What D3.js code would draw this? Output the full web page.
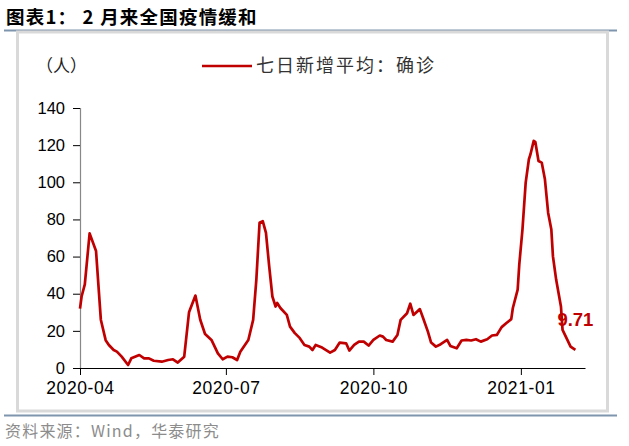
<!DOCTYPE html>
<html><head><meta charset="utf-8">
<script src="https://cdn.jsdelivr.net/npm/d3@7"></script>
<style>body{margin:0;background:#fff;} svg{display:block;}</style>
</head><body>
<div id="chart"></div>
<script>
const title = "图表1： 2 月来全国疫情缓和";
const seriesName = "七日新增平均：确诊";
const unitLabel = "（人）";
const source = "资料来源：Wind，华泰研究";
const lastLabel = "9.71";
const yTicks = [0, 20, 40, 60, 80, 100, 120, 140];
const xTicks = ["2020-04-01", "2020-07-01", "2020-10-01", "2021-01-01"];
const dates = [
"2020-04-01","2020-04-02","2020-04-04","2020-04-07","2020-04-11","2020-04-14","2020-04-17","2020-04-19","2020-04-22","2020-04-24",
"2020-04-27","2020-05-01","2020-05-03","2020-05-08","2020-05-11","2020-05-14","2020-05-17","2020-05-22","2020-05-26","2020-05-29",
"2020-06-01","2020-06-05","2020-06-08","2020-06-12","2020-06-15","2020-06-18","2020-06-22","2020-06-26","2020-06-29","2020-07-02",
"2020-07-05","2020-07-08","2020-07-10","2020-07-15","2020-07-18","2020-07-20","2020-07-22","2020-07-24","2020-07-26","2020-07-28",
"2020-07-30","2020-08-01","2020-08-02","2020-08-04","2020-08-08","2020-08-10","2020-08-13","2020-08-16","2020-08-19","2020-08-22",
"2020-08-24","2020-08-26","2020-08-30","2020-09-04","2020-09-07","2020-09-10","2020-09-14","2020-09-16","2020-09-19","2020-09-22",
"2020-09-25","2020-09-28","2020-10-01","2020-10-05","2020-10-07","2020-10-09","2020-10-13","2020-10-16","2020-10-18","2020-10-22",
"2020-10-24","2020-10-26","2020-10-30","2020-11-01","2020-11-04","2020-11-06","2020-11-09","2020-11-12","2020-11-16","2020-11-18",
"2020-11-22","2020-11-25","2020-11-28","2020-12-01","2020-12-04","2020-12-07","2020-12-11","2020-12-14","2020-12-17","2020-12-20",
"2020-12-23","2020-12-26","2020-12-27","2020-12-30","2020-12-31","2021-01-02","2021-01-04","2021-01-06","2021-01-07","2021-01-09",
"2021-01-10","2021-01-12","2021-01-14","2021-01-16","2021-01-18","2021-01-20","2021-01-21","2021-01-23","2021-01-26","2021-01-27",
"2021-01-30","2021-02-01","2021-02-04"];
const values = [
32,38.5,45,72.5,63,26,15,12.4,9.7,8.8,
6.1,1.6,5.2,7,5.2,5.2,3.9,3.4,4.3,4.7,
2.9,6.1,30,39,26,18.3,15.1,7.9,4.7,6.1,
5.8,4.3,8.8,15.1,25.9,47.6,78.2,79.1,72.8,54.8,
38.5,33.1,35,32.3,28.6,22.3,18.8,16.2,12.4,11.5,
9.7,12.4,11,8.3,9.7,13.7,13.3,9.4,12.4,14.2,
14.2,12.1,15.1,17.5,16.9,15.1,14.2,17.8,25.9,29.5,
34.6,28.6,31.7,26.9,19.6,13.7,11.5,12.8,15.1,11.9,
10.6,14.8,15.1,14.8,15.5,14.2,15.5,17.5,17.8,22,
24.2,26.3,32.3,42.2,55.7,74.6,99.8,112.4,115.1,122.3,
121.8,111.5,110.6,101.6,83.6,74.6,60.2,47.6,33.1,20.5,
15.1,11.5,9.71];

const W = 629, H = 446;
const parse = d3.timeParse("%Y-%m-%d");
const fmt = d3.timeFormat("%Y-%m");
const data = dates.map((d, i) => ({date: parse(d), value: values[i]}));

const svg = d3.select("#chart").append("svg").attr("width", W).attr("height", H);

// title
svg.append("text").attr("x", 6).attr("y", 24)
  .attr("font-family", "'Noto Sans CJK SC', sans-serif").attr("font-weight", "bold")
  .attr("font-size", 18.5).attr("letter-spacing", 1.2).attr("fill", "#000").text(title);
svg.append("line").attr("x1", 4).attr("x2", 617).attr("y1", 30.5).attr("y2", 30.5)
  .attr("stroke", "#7f95ad").attr("stroke-width", 2);
// frame
svg.append("rect").attr("x", 17.5).attr("y", 32).attr("width", 590).attr("height", 379)
  .attr("fill", "none").attr("stroke", "#d9d9d9").attr("stroke-width", 3);
svg.append("line").attr("x1", 4).attr("x2", 617).attr("y1", 415.5).attr("y2", 415.5)
  .attr("stroke", "#7f95ad").attr("stroke-width", 2);
svg.append("text").attr("x", 5).attr("y", 437)
  .attr("font-family", "'Noto Sans CJK SC', sans-serif").attr("font-size", 16)
  .attr("letter-spacing", 1.2).attr("fill", "#8c8c8c").text(source);

const x = d3.scaleTime().domain([parse("2020-04-01"), parse("2021-02-10")]).range([80, 585]);
const y = d3.scaleLinear().domain([0, 140]).range([368, 108]);

// y axis
const ya = svg.append("g").attr("transform", "translate(80,0)")
  .call(d3.axisLeft(y).tickValues(yTicks).tickSize(7).tickPadding(8));
ya.select(".domain").attr("stroke", "#888").attr("stroke-width", 1.2);
ya.selectAll(".tick line").attr("stroke", "#000");
ya.selectAll("text").attr("font-family", "'Liberation Sans', Arial, sans-serif")
  .attr("font-size", 16.5).attr("fill", "#000");

// x axis
const xa = svg.append("g").attr("transform", "translate(0,368)")
  .call(d3.axisBottom(x).tickValues(xTicks.map(parse)).tickFormat(fmt).tickSize(7).tickPadding(7).tickSizeOuter(0));
xa.select(".domain").attr("stroke", "#000").attr("stroke-width", 1.2);
xa.selectAll(".tick line").attr("stroke", "#000");
xa.selectAll("text").attr("font-family", "'Liberation Sans', Arial, sans-serif")
  .attr("font-size", 17.5).attr("letter-spacing", 0.6).attr("fill", "#000");

// line
const line = d3.line().x(d => x(d.date)).y(d => y(d.value));
svg.append("path").datum(data).attr("d", line).attr("fill", "none")
  .attr("stroke", "#c00000").attr("stroke-width", 2.7).attr("stroke-linejoin", "round");

// last label
const last = data[data.length - 1];
svg.append("text").attr("x", x(last.date) - 18).attr("y", y(last.value) - 24)
  .attr("font-family", "'Liberation Sans', Arial, sans-serif").attr("font-weight", "bold")
  .attr("font-size", 18.5).attr("fill", "#c00000").text(lastLabel);

// unit
svg.append("text").attr("x", 36).attr("y", 72)
  .attr("font-family", "'Noto Sans CJK SC', sans-serif").attr("font-size", 17)
  .attr("fill", "#222").text(unitLabel);

// legend
svg.append("line").attr("x1", 202).attr("x2", 252).attr("y1", 66).attr("y2", 66)
  .attr("stroke", "#c00000").attr("stroke-width", 2.7);
svg.append("text").attr("x", 256).attr("y", 72)
  .attr("font-family", "'Noto Sans CJK SC', sans-serif").attr("font-size", 18)
  .attr("letter-spacing", 2).attr("fill", "#333").text(seriesName);
</script>
</body></html>
